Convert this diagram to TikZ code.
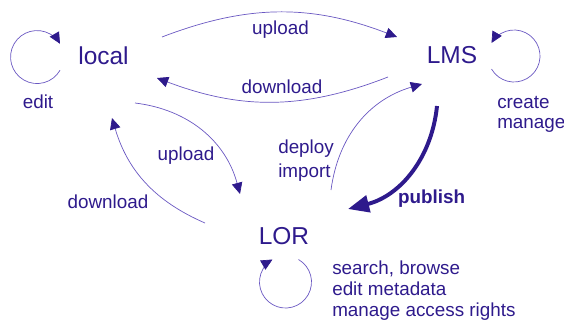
\documentclass[tikz,border=0pt]{standalone}
\usepackage{fontspec}
\setmainfont{Liberation Sans}
\usetikzlibrary{arrows.meta}
\definecolor{lmsInk}{HTML}{2E1A8C}
\definecolor{lmsLine}{HTML}{6A58C2}

\begin{document}
\begin{tikzpicture}[x=0.025cm, y=-0.025cm,
    place/.style={font=\fontsize{17.4}{20}\selectfont, text=lmsInk, inner sep=0pt},
    lbl/.style={font=\fontsize{13.4}{15.1}\selectfont, text=lmsInk, inner sep=0pt},
    flow/.style={draw=lmsLine, line width=0.5pt, -{Triangle[length=8pt, width=7.5pt, color=lmsInk]}},
    pub/.style={draw=lmsInk, line width=2.8pt, -{Triangle[length=15pt, width=12pt]}}]
    \useasboundingbox (0,0) rectangle (564,322);

    \node[place] (local) at (103.5,56) {local};
    \node[place] (lms) at (452,55) {LMS};
    \node[place] (lor) at (284,236) {LOR};

    % work done inside each system (base of a multi-line label = its last line)
    \draw[flow] ([shift={(-43.5,14.3)}]local.center) arc[start angle=30, end angle=330, radius=26.5];
    \draw[flow] ([shift={(39.5,14)}]lms.center) arc[start angle=150, end angle=-150, radius=26];
    \draw[flow] ([shift={(14.5,23.5)}]lor.center) arc[start angle=-60, end angle=240, radius=26];

    \node[lbl, anchor=base] (editLocal) at (38,108) {edit};
    \node[lbl, align=left, anchor=base west, font=\fontsize{13.4}{14.2}\selectfont] (lmsTask) at (497,128) {create\\manage};
    \node[lbl, align=left, anchor=base west] (lorTask) at (332,316.5) {search, browse\\edit metadata\\manage access rights};

    % transfers between the systems
    \draw[flow] ([shift={(58.5,-19)}]local.center) to[bend left=21] ([shift={(-55,-18)}]lms.center);
    \draw[flow] ([shift={(-64,22)}]lms.center) to[bend left=21] ([shift={(53.5,22)}]local.center);
    \draw[flow] ([shift={(31.5,47)}]local.center) to[bend left=34] ([shift={(-44,-42)}]lor.center);
    \draw[flow] ([shift={(-79,-13)}]lor.center) to[bend left=25] ([shift={(8.5,62)}]local.center);
    \draw[flow] ([shift={(47,-46)}]lor.center) to[bend left=33] ([shift={(-30,29)}]lms.center);
    \draw[pub] ([shift={(-15,51)}]lms.center) to[bend left=35] ([shift={(64,-27)}]lor.center);

    \node[lbl, anchor=base] (upTop) at (280.5,34) {upload};
    \node[lbl, anchor=base] (downTop) at (282,93) {download};
    \node[lbl, anchor=base] (upLeft) at (186,160) {upload};
    \node[lbl, anchor=base] (downLeft) at (108,208) {download};
    \node[lbl, align=left, anchor=base west, font=\fontsize{13.4}{16.4}\selectfont] (deploy) at (278,177) {deploy\\import};
    \node[lbl, anchor=base, font=\fontsize{13.4}{15}\selectfont\bfseries] (publish) at (431.5,203) {publish};
\end{tikzpicture}
\end{document}
